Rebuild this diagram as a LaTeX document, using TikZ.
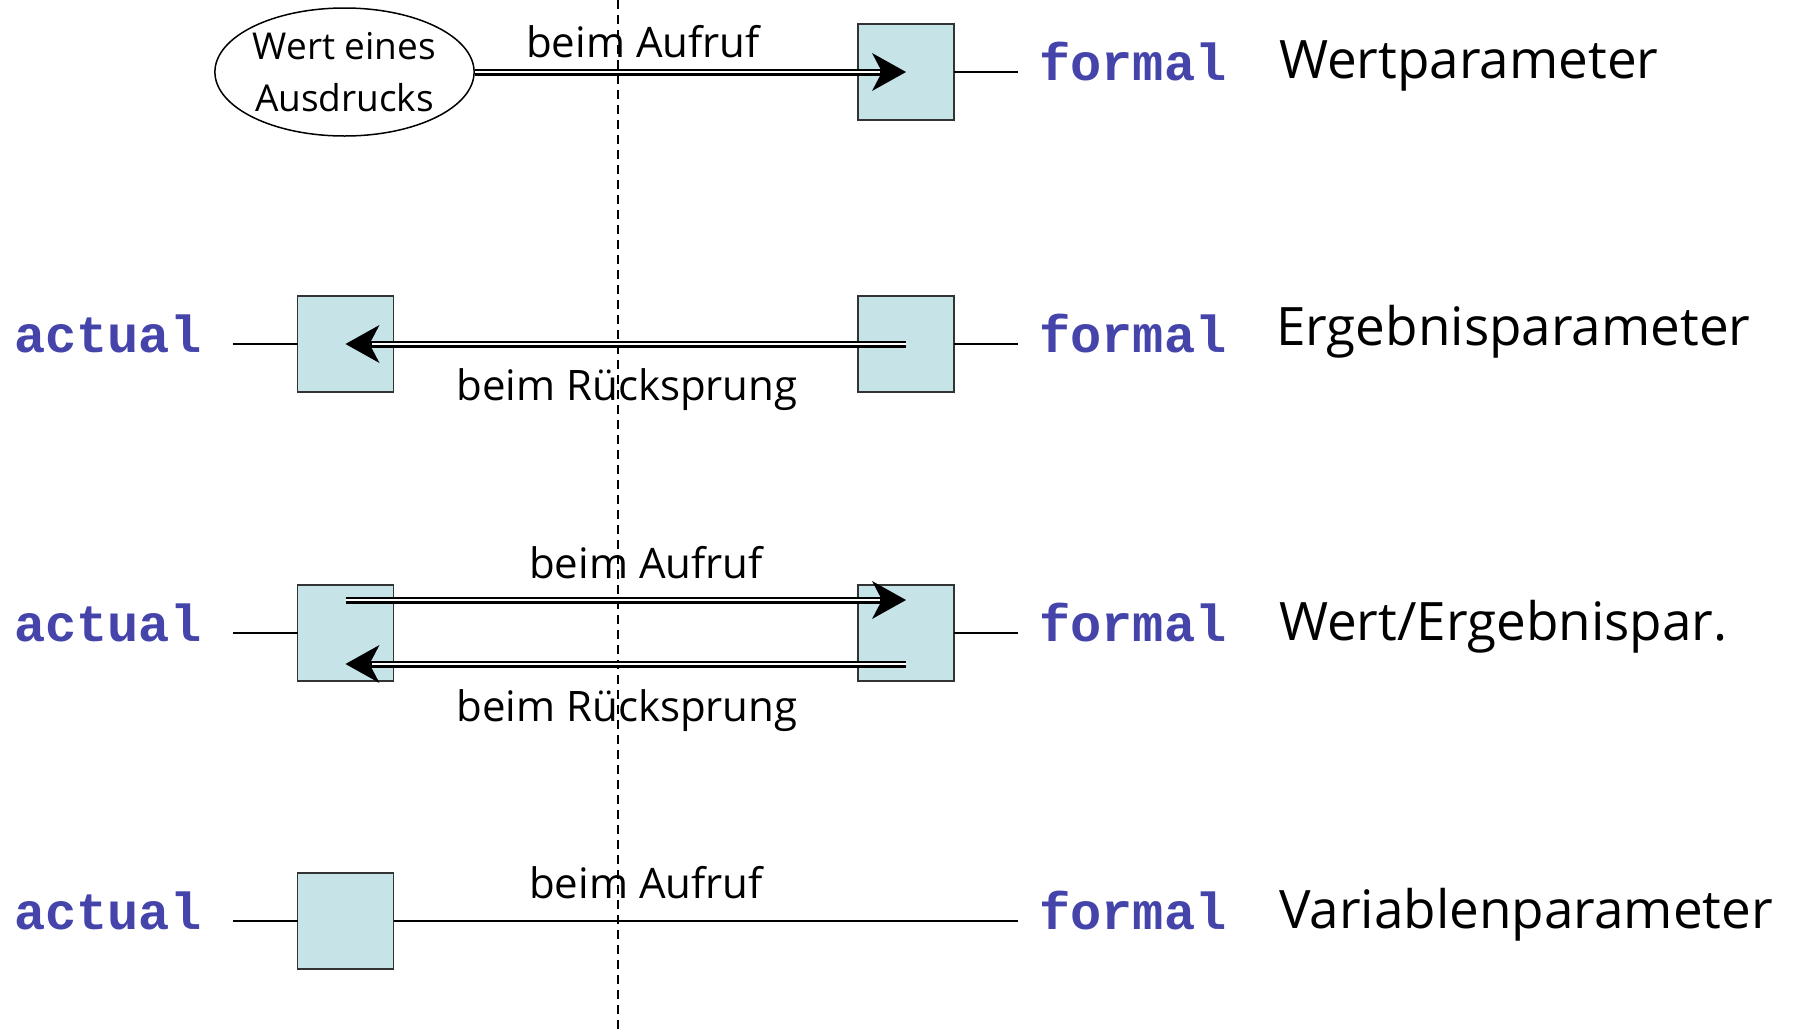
\documentclass[tikz,border=0pt]{standalone}
\usepackage{fontspec}
\setmainfont{Open Sans}
\newfontfamily\monob{Liberation Mono}
\usetikzlibrary{arrows.meta,shapes.geometric}
\definecolor{boxfill}{RGB}{198,228,232}
\definecolor{kwblue}{RGB}{68,68,170}
\begin{document}
\begin{tikzpicture}[x=1pt,y=-1pt,
  box/.style={draw=black!80, fill=boxfill, line width=1.5pt, minimum size=96pt, inner sep=0pt, outer sep=0pt},
  kw/.style={text=kwblue, font=\monob\bfseries\fontsize{52}{60}\selectfont, anchor=base west, inner sep=0pt},
  lbl/.style={font=\fontsize{53}{60}\selectfont, anchor=base west, inner sep=0pt},
  small/.style={font=\fontsize{42}{50}\selectfont, anchor=base, inner sep=0pt},
  conn/.style={line width=2pt},
  dblout/.style={line width=7pt, -{Stealth[length=34pt,width=38pt,inset=10pt,line width=0pt]}},
  dblin/.style={white, line width=2.6pt, shorten >=26pt}]
\useasboundingbox (0,0) rectangle (1794,1031);
% dashed divider
\coordinate (dtop) at (618,0);
\coordinate (dbot) at (618,1031);
\draw[line width=1.5pt, dash pattern=on 9pt off 6pt] (dtop) -- (dbot);

% row 1
\node[ellipse, draw, line width=1.5pt, minimum width=255pt, minimum height=128pt, inner sep=0pt, align=center, font=\fontsize{37}{52}\selectfont] (ausd) at (344.5,72) {Wert eines\\Ausdrucks};
\node[box] (f1) at (906,72) {};
\coordinate (lf1) at (1018,72);
\draw[conn] (f1.east) -- (lf1);
\node[kw] (kf1) at (1039,80) {formal};
\node[lbl] (t1) at (1279,78) {Wertparameter};
\node[small] (b1) at (643,57) {beim Aufruf};
\draw[dblout] (ausd.east) -- (f1.center);
\draw[dblin] (ausd.east) -- (f1.center);

% row 2
\node[box] (a2) at (345.5,344) {};
\node[box] (f2) at (906,344) {};
\coordinate (la2) at (233,344);
\coordinate (lf2) at (1018,344);
\draw[conn] (la2) -- (a2.west);
\draw[conn] (f2.east) -- (lf2);
\node[kw] (ka2) at (14,352) {actual};
\node[kw] (kf2) at (1039,352) {formal};
\node[lbl] (t2) at (1276,345) {Ergebnisparameter};
\node[small] (r2) at (627,400) {beim Rücksprung};
\draw[dblout] (f2.center) -- (a2.center);
\draw[dblin] (f2.center) -- (a2.center);

% row 3
\node[box] (a3) at (345.5,633) {};
\node[box] (f3) at (906,633) {};
\coordinate (la3) at (233,633);
\coordinate (lf3) at (1018,633);
\draw[conn] (la3) -- (a3.west);
\draw[conn] (f3.east) -- (lf3);
\node[kw] (ka3) at (14,641) {actual};
\node[kw] (kf3) at (1039,641) {formal};
\node[lbl] (t3) at (1279,640) {Wert/Ergebnispar.};
\node[small] (b3) at (646,578) {beim Aufruf};
\node[small] (r3) at (627,721) {beim Rücksprung};
\draw[dblout] ([yshift=33pt]a3.center) -- ([yshift=33pt]f3.center);
\draw[dblin] ([yshift=33pt]a3.center) -- ([yshift=33pt]f3.center);
\draw[dblout] ([yshift=-31pt]f3.center) -- ([yshift=-31pt]a3.center);
\draw[dblin] ([yshift=-31pt]f3.center) -- ([yshift=-31pt]a3.center);

% row 4
\node[box] (a4) at (345.5,921) {};
\coordinate (la4) at (233,921);
\coordinate (lf4) at (1018,921);
\draw[conn] (la4) -- (a4.west);
\draw[conn] (a4.east) -- (lf4);
\node[kw] (ka4) at (14,929) {actual};
\node[kw] (kf4) at (1039,929) {formal};
\node[lbl] (t4) at (1279,928) {Variablenparameter};
\node[small] (b4) at (646,898) {beim Aufruf};
\end{tikzpicture}
\end{document}
